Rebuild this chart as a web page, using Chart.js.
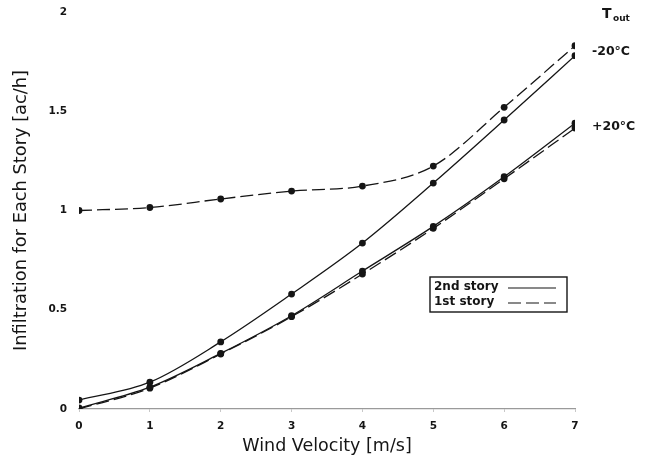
<!DOCTYPE html>
<html>
<head>
<meta charset="utf-8">
<script src="https://cdn.jsdelivr.net/npm/chart.js@4/dist/chart.umd.min.js"></script>
<style>
  html, body { margin: 0; padding: 0; background: #fff; }
  #wrap { width: 645px; height: 459px; }
</style>
</head>
<body>
<div id="wrap"><canvas id="chart" width="645" height="459"></canvas></div>
<script>
/* data */
const windVelocity = [0, 1, 2, 3, 4, 5, 6, 7];
const cold2ndStory = [0.045, 0.135, 0.338, 0.579, 0.836, 1.138, 1.456, 1.78];
const cold1stStory = [1.0, 1.015, 1.058, 1.098, 1.123, 1.224, 1.52, 1.83];
const warm2ndStory = [0.005, 0.11, 0.28, 0.47, 0.695, 0.92, 1.17, 1.44];
const warm1stStory = [0.0, 0.105, 0.277, 0.465, 0.68, 0.91, 1.16, 1.415];
const yTicks = [0, 0.5, 1, 1.5, 2];
const legendNames = ["2nd story", "1st story"];
const tempLabels = ["-20\u00b0C", "+20\u00b0C"];

const ink = "#151515";
const font = "'DejaVu Sans', Verdana, sans-serif";

function pts(ys) {
  return windVelocity.map((x, i) => ({ x: x, y: ys[i] }));
}

function series(label, ys, dashed) {
  return {
    label: label,
    data: pts(ys),
    borderColor: ink,
    backgroundColor: ink,
    borderWidth: 1.3,
    borderDash: dashed ? [13, 5] : [],
    pointRadius: 3.4,
    pointBackgroundColor: ink,
    pointBorderWidth: 0,
    cubicInterpolationMode: "monotone",
    fill: false
  };
}

/* texts and legend box drawn on top */
const notes = {
  id: "notes",
  afterDraw(chart) {
    const ctx = chart.ctx;
    const xs = chart.scales.x, ys = chart.scales.y;
    const xr = xs.getPixelForValue(7);
    ctx.save();
    ctx.fillStyle = ink;
    ctx.textBaseline = "middle";
    ctx.textAlign = "left";

    // T_out
    ctx.font = "bold 14px " + font;
    ctx.fillText("T", 602, 14);
    ctx.font = "bold 9px " + font;
    ctx.fillText("out", 613, 19);

    ctx.font = "bold 12.5px " + font;
    ctx.fillText(tempLabels[0], xr + 17, ys.getPixelForValue(1.8));
    ctx.fillText(tempLabels[1], xr + 17, ys.getPixelForValue(1.42));

    // legend
    const bx = 430, by = 277, bw = 137, bh = 35;
    ctx.strokeStyle = ink;
    ctx.lineWidth = 1.4;
    ctx.strokeRect(bx, by, bw, bh);
    ctx.font = "bold 12px " + font;
    ctx.fillText(legendNames[0], bx + 4, by + 10);
    ctx.fillText(legendNames[1], bx + 4, by + 25);
    ctx.lineWidth = 1.2;
    ctx.beginPath();
    ctx.moveTo(bx + 78, by + 11);
    ctx.lineTo(bx + 126, by + 11);
    ctx.stroke();
    ctx.setLineDash([13, 5]);
    ctx.beginPath();
    ctx.moveTo(bx + 78, by + 26);
    ctx.lineTo(bx + 126, by + 26);
    ctx.stroke();
    ctx.restore();
  }
};

new Chart(document.getElementById("chart"), {
  type: "line",
  data: {
    datasets: [
      series("-20 2nd story", cold2ndStory, false),
      series("-20 1st story", cold1stStory, true),
      series("+20 2nd story", warm2ndStory, false),
      series("+20 1st story", warm1stStory, true)
    ]
  },
  options: {
    responsive: false,
    animation: false,
    layout: { padding: { left: 0, right: 70, top: 12, bottom: 0 } },
    plugins: { legend: { display: false }, tooltip: { enabled: false } },
    scales: {
      x: {
        type: "linear",
        min: 0,
        max: 7,
        afterFit(s) { s.height = 50; },
        border: { display: true, color: "#9a9a9a", width: 1.3 },
        grid: { drawOnChartArea: false, drawTicks: true, tickLength: 3, color: "#c8c8c8" },
        ticks: {
          stepSize: 1,
          padding: 8,
          color: ink,
          font: { family: font, size: 10.5, weight: "bold" }
        },
        title: {
          display: true,
          text: "Wind Velocity [m/s]",
          color: ink,
          padding: { top: 0, bottom: 2 },
          font: { family: font, size: 17.5 }
        }
      },
      y: {
        min: 0,
        max: 2,
        afterFit(s) { s.width = 79; s.paddingTop = 0; s.paddingBottom = 0; },
        afterBuildTicks(s) { s.ticks = yTicks.map(v => ({ value: v })); },
        border: { display: false },
        grid: { display: false, drawTicks: false },
        ticks: {
          padding: 12,
          color: ink,
          callback: v => String(v),
          font: { family: font, size: 10.5, weight: "bold" }
        },
        title: {
          display: true,
          text: "Infiltration for Each Story [ac/h]",
          color: ink,
          padding: { top: 11, bottom: 0 },
          font: { family: font, size: 17.8 }
        }
      }
    }
  },
  plugins: [notes]
});
</script>
</body>
</html>
